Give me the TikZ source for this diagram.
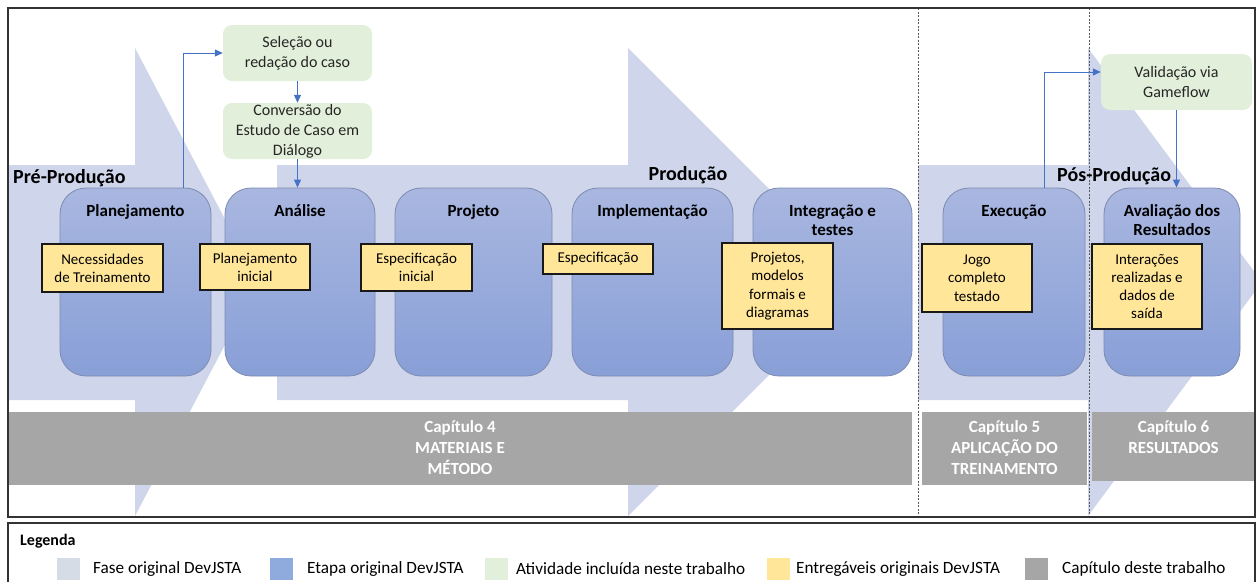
\documentclass[tikz,border=0pt]{standalone}
\usepackage{fontspec}
\setmainfont{Carlito}
\usetikzlibrary{arrows.meta,calc}

\definecolor{phase}{HTML}{CFD5EA}
\definecolor{stagetop}{HTML}{A9B7E0}
\definecolor{stagebot}{HTML}{889FD7}
\definecolor{stageedge}{HTML}{7D8BB0}
\definecolor{deliv}{HTML}{FFE699}
\definecolor{activity}{HTML}{E2EFDA}
\definecolor{chapter}{HTML}{A6A6A6}
\definecolor{link}{HTML}{4472C4}
\definecolor{legphase}{HTML}{D6DCE5}
\definecolor{legstage}{HTML}{8FAADC}

\begin{document}
\begin{tikzpicture}[x=1pt,y=1pt,
  stagebox/.style={draw=stageedge, line width=0.8pt, rounded corners=26pt,
    top color=stagetop, bottom color=stagebot, inner sep=0pt},
  stagetitle/.style={anchor=base, align=center, inner sep=0pt, text=black,
    font=\bfseries\fontsize{17}{18.5}\selectfont},
  delivbox/.style={draw=black!90, line width=1.4pt, fill=deliv, align=center,
    inner sep=0pt, text=black, font=\fontsize{15}{18.3}\selectfont},
  actbox/.style={fill=activity, rounded corners=9pt, align=center, inner sep=0pt,
    text=black!85, font=\fontsize{16}{20}\selectfont},
  chapbar/.style={fill=chapter, inner sep=0pt},
  chaptext/.style={anchor=base, align=center, text=white, inner sep=0pt,
    font=\bfseries\fontsize{17}{21}\selectfont},
  phaselabel/.style={inner sep=0pt, text=black, font=\bfseries\fontsize{20}{24}\selectfont},
  conn/.style={draw=link, line width=1pt, -{Triangle[length=8pt,width=7pt]}},
  divider/.style={draw=black!65, line width=0.8pt, dash pattern=on 2pt off 1.5pt},
  swatch/.style={minimum width=23pt, minimum height=22pt, inner sep=0pt},
  legtext/.style={anchor=west, inner sep=0pt, font=\fontsize{17.2}{20}\selectfont},
]
\useasboundingbox (0,0) rectangle (1258,-581);

% phase arrows (pre-production, production, post-production)
\begin{scope}
  \clip (8,-8) rectangle (1255,-517);
  \fill[phase] (0,-165) -- (135,-165) -- (135,-48) -- (258,-282) -- (135,-516)
     -- (135,-400) -- (0,-400) -- cycle;
  \fill[phase] (277,-165) -- (628,-165) -- (628,-48) -- (862,-282) -- (628,-516)
     -- (628,-400) -- (277,-400) -- cycle;
  \fill[phase] (918,-165) -- (1088,-165) -- (1088,-48) -- (1262,-282) -- (1088,-516)
     -- (1088,-400) -- (918,-400) -- cycle;
\end{scope}

% chapter bars (multi-line text is placed by the baseline of its last line)
\node[chapbar, minimum width=904pt, minimum height=73pt] (cap4) at (460,-448.5) {};
\node[chapbar, minimum width=165pt, minimum height=73pt] (cap5) at (1004.5,-448.5) {};
\node[chapbar, minimum width=163pt, minimum height=69pt] (cap6) at (1173.5,-446.5) {};
\node[chaptext] (cap4t) at ($(cap4.north)+(0,-63)$) {Capítulo 4\\MATERIAIS E\\MÉTODO};
\node[chaptext] (cap5t) at ($(cap5.north)+(0,-63)$) {Capítulo 5\\APLICAÇÃO DO\\TREINAMENTO};
\node[chaptext] (cap6t) at ($(cap6.north)+(0,-42)$) {Capítulo 6\\RESULTADOS};

% chapter dividers
\coordinate (d1t) at (918,-8);   \coordinate (d1b) at (918,-517);
\coordinate (d2t) at (1089,-8);  \coordinate (d2b) at (1089,-517);
\draw[divider] (d1t) -- (d1b);
\draw[divider] (d2t) -- (d2b);

% stages
\node[stagebox, minimum width=151pt, minimum height=188pt] (plan) at (135.5,-282) {};
\node[stagebox, minimum width=150pt, minimum height=188pt] (ana) at (300,-282) {};
\node[stagebox, minimum width=157pt, minimum height=188pt] (proj) at (473.5,-282) {};
\node[stagebox, minimum width=161pt, minimum height=188pt] (impl) at (652.5,-282) {};
\node[stagebox, minimum width=159pt, minimum height=188pt] (integ) at (832.5,-282) {};
\node[stagebox, minimum width=142pt, minimum height=188pt] (exec) at (1014,-282) {};
\node[stagebox, minimum width=136pt, minimum height=188pt] (aval) at (1172,-282) {};

\node[stagetitle] (planT) at ($(plan.north)+(0,-29)$) {Planejamento};
\node[stagetitle] (anaT) at ($(ana.north)+(0,-29)$) {Análise};
\node[stagetitle] (projT) at ($(proj.north)+(0,-29)$) {Projeto};
\node[stagetitle] (implT) at ($(impl.north)+(0,-29)$) {Implementação};
\node[stagetitle] (integT) at ($(integ.north)+(0,-47.5)$) {Integração e\\testes};
\node[stagetitle] (execT) at ($(exec.north)+(0,-29)$) {Execução};
\node[stagetitle] (avalT) at ($(aval.north)+(0,-47.5)$) {Avaliação dos\\Resultados};

% deliverables
\node[delivbox, minimum width=121pt, minimum height=48pt] (need) at (102.5,-268) {Necessidades\\de Treinamento};
\node[delivbox, minimum width=110pt, minimum height=46pt] (pini) at (255,-267) {Planejamento\\inicial};
\node[delivbox, minimum width=111pt, minimum height=47pt] (eini) at (416.5,-267.5) {Especificação\\inicial};
\node[delivbox, minimum width=110pt, minimum height=30pt] (espec) at (598,-259) {Especificação};
\node[delivbox, minimum width=111pt, minimum height=86pt] (projs) at (777.5,-286) {Projetos,\\modelos\\formais e\\diagramas};
\node[delivbox, minimum width=110pt, minimum height=68pt] (jogo) at (977,-278) {Jogo\\completo\\testado};
\node[delivbox, minimum width=110pt, minimum height=85pt] (inter) at (1147,-286.5) {Interações\\realizadas e\\dados de\\saída};

% activities added in this work
\node[actbox, minimum width=149pt, minimum height=56pt] (sel) at (297.5,-53) {Seleção ou\\redação do caso};
\node[actbox, minimum width=149pt, minimum height=56pt] (conv) at (297.5,-131) {Conversão do\\Estudo de Caso em\\Diálogo};
\node[actbox, minimum width=151pt, minimum height=56pt] (val) at (1176.5,-82) {Validação via\\Gameflow};

% connectors
\draw[conn] ([xshift=47.5pt]plan.north) |- (sel.west);
\draw[conn] (sel.south) -- (conv.north);
\draw[conn] (conv.south) -- (conv.south |- ana.north);
\draw[conn] ([xshift=30pt]exec.north) |- ([yshift=10pt]val.west);
\draw[conn] (val.south) -- (val.south |- aval.north);

% phase labels
\node[phaselabel, anchor=west] (preL) at (13,-178) {Pré-Produção};
\node[phaselabel] (prodL) at (688,-175) {Produção};
\node[phaselabel, anchor=west] (posL) at (1057,-176) {Pós-Produção};

% outer frame
\draw[draw=black!80, line width=1.5pt] (8,-8) rectangle (1255,-517);

% legend
\draw[draw=black!80, line width=1.5pt] (8,-523) rectangle (1255,-584);
\node[anchor=west, inner sep=0pt, font=\bfseries\fontsize{16}{19}\selectfont] (legT) at (20,-541) {Legenda};
\node[swatch, fill=legphase] (sw1) at (68.5,-569) {};
\node[swatch, fill=legstage] (sw2) at (281.5,-569) {};
\node[swatch, fill=activity] (sw3) at (496.5,-569) {};
\node[swatch, fill=deliv] (sw4) at (778.5,-569) {};
\node[swatch, fill=chapter] (sw5) at (1036,-569) {};
\node[legtext] (lt1) at (93,-569) {Fase original DevJSTA};
\node[legtext] (lt2) at (307,-569) {Etapa original DevJSTA};
\node[legtext] (lt3) at (516,-569) {Atividade incluída neste trabalho};
\node[legtext] (lt4) at (796,-569) {Entregáveis originais DevJSTA};
\node[legtext] (lt5) at (1062,-569) {Capítulo deste trabalho};
\end{tikzpicture}
\end{document}
